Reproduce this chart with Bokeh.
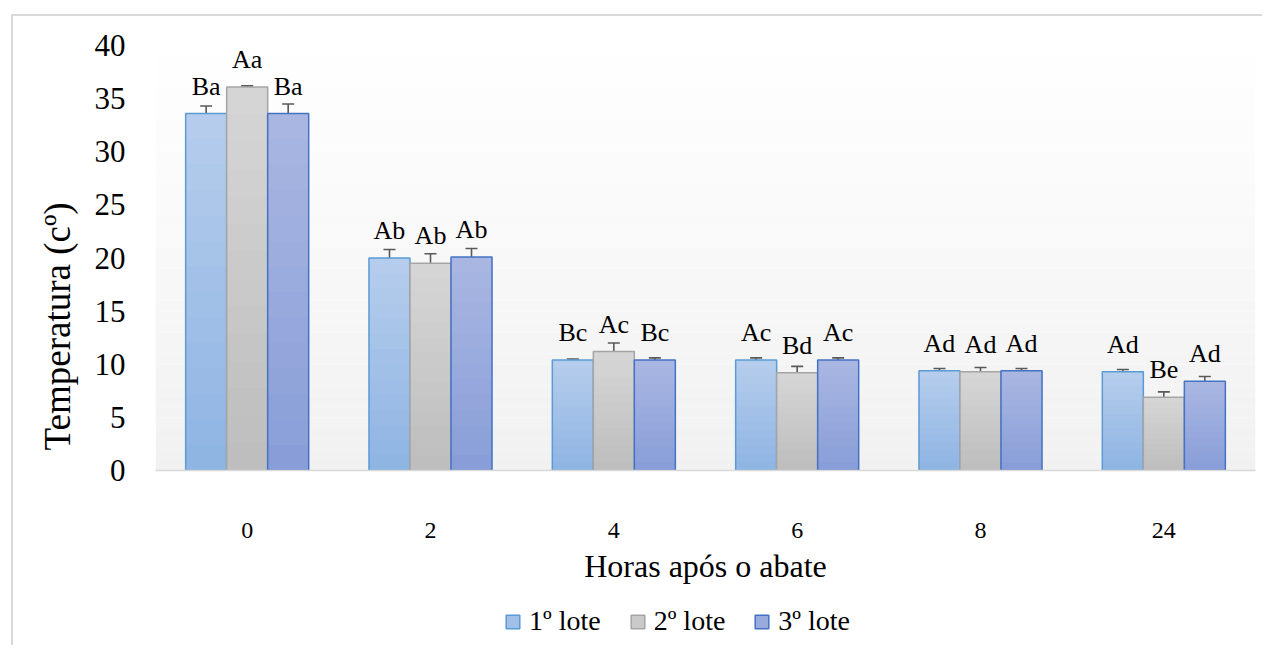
from bokeh.plotting import figure
from bokeh.layouts import column
from bokeh.models import (ColumnDataSource, Whisker, LabelSet, Legend, LegendItem,
                          BoxAnnotation, TeeHead, FactorRange, SingleIntervalTicker, Title)
from bokeh.transform import dodge
from bokeh.embed import file_html
from bokeh.resources import INLINE

# ---------------- data ----------------
hours = ["0", "2", "4", "6", "8", "24"]
series_names = ["1º lote", "2º lote", "3º lote"]

lote1 = [33.6, 20.0, 10.4, 10.4, 9.4, 9.3]
lote2 = [36.1, 19.5, 11.2, 9.2, 9.3, 6.9]
lote3 = [33.6, 20.1, 10.4, 10.4, 9.4, 8.4]

err1 = [0.7, 0.8, 0.1, 0.2, 0.2, 0.2]
err2 = [0.1, 0.9, 0.8, 0.6, 0.4, 0.5]
err3 = [0.9, 0.8, 0.2, 0.2, 0.2, 0.45]

lab1 = ["Ba", "Ab", "Bc", "Ac", "Ad", "Ad"]
lab2 = ["Aa", "Ab", "Ac", "Bd", "Ad", "Be"]
lab3 = ["Ba", "Ab", "Bc", "Ac", "Ad", "Ad"]

values = [lote1, lote2, lote3]
errors = [err1, err2, err3]
labels = [lab1, lab2, lab3]

# ---------------- style ----------------
FONT = "Liberation Serif"
top_cols = ["#b6cdec", "#d6d6d6", "#aab7e2"]
bot_cols = ["#8eb4e3", "#bdbdbd", "#889dd8"]
mid_cols = ["#a2c0e7", "#cacaca", "#99aadd"]
edge_cols = ["#5b9bd5", "#a5a5a5", "#4472c4"]
offsets = [-0.2237, 0.0, 0.2237]
BW = 0.2237
NSL = 14


def hx(c):
    c = c.lstrip("#")
    return [int(c[i:i + 2], 16) for i in (0, 2, 4)]


def mix(a, b, t):
    A, B = hx(a), hx(b)
    return "#%02x%02x%02x" % tuple(int(round(A[i] + (B[i] - A[i]) * t)) for i in range(3))


p = figure(x_range=FactorRange(factors=hours), y_range=(0, 40),
           width=1249, height=584, output_backend="svg", toolbar_location=None,
           min_border_left=142, min_border_right=7, min_border_top=29,
           min_border_bottom=130)
p.outline_line_color = None
p.xgrid.visible = False
p.ygrid.visible = False
p.background_fill_color = "#ffffff"
p.border_fill_color = "#ffffff"

# background gradient of the plot area
NB = 40
for i in range(NB):
    p.add_layout(BoxAnnotation(bottom=40 * i / NB, top=40 * (i + 1) / NB,
                               fill_color=mix("#f1f1f1", "#ffffff", (i + 0.5) / NB),
                               fill_alpha=1.0, line_color=None, level="underlay"))

for s in range(3):
    vals = values[s]
    hs, bs, ts, cs = [], [], [], []
    for j, h in enumerate(hours):
        # overlapping slices (each reaches the bar top) give a seamless vertical gradient
        for k in range(NSL):
            hs.append(h)
            bs.append(vals[j] * k / NSL)
            ts.append(vals[j])
            cs.append(mix(bot_cols[s], top_cols[s], (k + 0.5) / NSL))
    slsrc = ColumnDataSource(dict(hora=hs, bottom=bs, top=ts, color=cs))
    p.vbar(x=dodge("hora", offsets[s], range=p.x_range), bottom="bottom", top="top",
           width=BW, source=slsrc, fill_color="color", line_color=None)

    src = ColumnDataSource(dict(hora=hours, value=vals,
                                upper=[v + e for v, e in zip(vals, errors[s])],
                                lower=[v - e for v, e in zip(vals, errors[s])],
                                label=labels[s]))
    p.vbar(x=dodge("hora", offsets[s], range=p.x_range), top="value", width=BW,
           source=src, fill_alpha=0, line_color=edge_cols[s], line_width=1.5)

    wh = Whisker(source=src, base=dodge("hora", offsets[s], range=p.x_range),
                 upper="upper", lower="lower", line_color="#595959", line_width=1.6,
                 upper_head=TeeHead(size=12, line_color="#595959", line_width=1.6),
                 lower_head=TeeHead(size=12, line_color="#595959", line_width=1.6))
    p.add_layout(wh)

    ls = LabelSet(source=src, x=dodge("hora", offsets[s], range=p.x_range), y="value",
                  text="label", y_offset=19, text_align="center",
                  text_baseline="alphabetic", text_font=FONT, text_font_size="26px",
                  text_color="#000000")
    p.add_layout(ls)

# axes
p.yaxis.ticker = SingleIntervalTicker(interval=5)
p.yaxis.axis_line_color = None
p.yaxis.major_tick_line_color = None
p.yaxis.minor_tick_line_color = None
p.yaxis.major_label_text_font = FONT
p.yaxis.major_label_text_font_size = "31px"
p.yaxis.major_label_text_color = "#000000"
p.yaxis.major_label_standoff = 24

p.add_layout(Title(text="Temperatura (cº)", align="left", offset=20,
                   text_font=FONT, text_font_size="37px", text_font_style="normal",
                   text_color="#000000", standoff=27), "left")

p.xaxis.axis_line_color = "#d9d9d9"
p.xaxis.axis_line_width = 1.5
p.xaxis.major_tick_line_color = None
p.xaxis.minor_tick_line_color = None
p.xaxis.major_label_text_font = FONT
p.xaxis.major_label_text_font_size = "24px"
p.xaxis.major_label_text_color = "#000000"
p.xaxis.major_label_standoff = 46
p.xaxis.axis_label = "Horas após o abate"
p.xaxis.axis_label_text_font = FONT
p.xaxis.axis_label_text_font_size = "32px"
p.xaxis.axis_label_text_font_style = "normal"
p.xaxis.axis_label_text_color = "#000000"
p.xaxis.axis_label_standoff = 7

# ---------------- legend strip ----------------
q = figure(width=1249, height=45, output_backend="svg", toolbar_location=None,
           x_range=(0, 1), y_range=(0, 1), min_border=0)
q.axis.visible = False
q.xgrid.visible = False
q.ygrid.visible = False
q.outline_line_color = None
q.background_fill_color = "#ffffff"
q.border_fill_color = "#ffffff"
legend_items = []
for s in range(3):
    # proxy glyphs lying outside the visible range: only their legend swatch shows
    lr = q.quad(left=[5], right=[6], bottom=[5], top=[6], fill_color=mid_cols[s],
                line_color=edge_cols[s], line_width=1.5)
    legend_items.append(LegendItem(label=series_names[s], renderers=[lr]))
legend = Legend(items=legend_items, orientation="horizontal", location=(349, 8),
                label_text_font=FONT, label_text_font_size="28px",
                label_text_color="#000000", glyph_width=17, glyph_height=17,
                label_standoff=8, spacing=28, border_line_color=None,
                background_fill_alpha=0, padding=0, margin=0)
q.add_layout(legend)

layout = column(p, q, spacing=0,
                styles={"margin-left": "11px", "margin-top": "14px",
                        "border-left": "2px solid #d9d9d9",
                        "border-top": "2px solid #d9d9d9"})
open("out.html", "w").write(file_html(layout, INLINE))
